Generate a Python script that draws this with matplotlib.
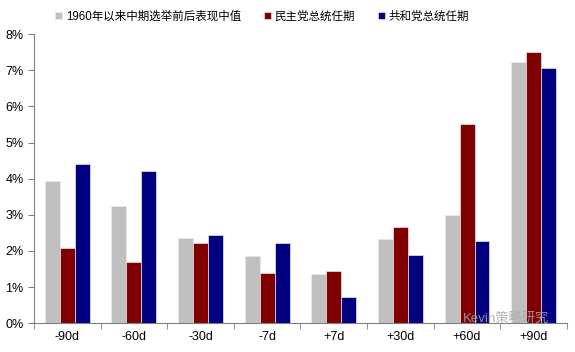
import numpy as np
import matplotlib
matplotlib.use('Agg')
import matplotlib.pyplot as plt
from matplotlib.ticker import FuncFormatter, FixedLocator

plt.rcParams['font.family'] = ['Liberation Sans', 'Noto Sans CJK SC', 'DejaVu Sans']

# data (%)
categories = ['-90d', '-60d', '-30d', '-7d', '+7d', '+30d', '+60d', '+90d']
median_all = [3.94, 3.24, 2.35, 1.86, 1.36, 2.32, 3.00, 7.24]
democrat = [2.09, 1.70, 2.22, 1.40, 1.44, 2.65, 5.50, 7.50]
republican = [4.40, 4.22, 2.44, 2.21, 0.71, 1.90, 2.27, 7.06]
series_names = ['1960年以来中期选举前后表现中值', '民主党总统任期', '共和党总统任期']
colors = ['#C0C0C0', '#800000', '#000080']

fig = plt.figure(figsize=(5.75, 3.52), dpi=100)
ax = fig.add_axes([0.059, 0.082, 0.927, 0.821])

x = np.arange(len(categories))
w = 0.225
for i, (vals, name, c) in enumerate(zip([median_all, democrat, republican], series_names, colors)):
    ax.bar(x + (i - 1) * w, vals, width=w, color=c, label=name,
           edgecolor='#E8E8E8', linewidth=0.5)

ax.set_xlim(-0.5, len(categories) - 0.5)
ax.set_ylim(0, 8)
ax.set_yticks(np.arange(0, 9, 1))
ax.yaxis.set_major_formatter(FuncFormatter(lambda v, p: f'{v:.0f}%'))
ax.set_xticks(x)
ax.set_xticklabels(categories)
ax.xaxis.set_minor_locator(FixedLocator(np.arange(-0.5, len(categories), 1)))
ax.tick_params(axis='x', which='major', length=0, labelsize=9, pad=6)
ax.tick_params(axis='x', which='minor', length=4, direction='out', color='#808080')
ax.tick_params(axis='y', length=4, direction='out', color='#808080', labelsize=9)

for s in ['top', 'right']:
    ax.spines[s].set_visible(False)
for s in ['left', 'bottom']:
    ax.spines[s].set_color('#808080')
    ax.spines[s].set_linewidth(0.8)

leg = fig.legend(loc='upper center', bbox_to_anchor=(0.456, 1.0), ncol=3, frameon=False,
                 fontsize=8.3, handlelength=0.6, handleheight=0.6, handletextpad=0.3,
                 columnspacing=2.0)

# watermark
fig.text(0.805, 0.083, 'Kevin策略研究', fontsize=9.5, color='#A8A8A8', alpha=0.85)

fig.savefig('out.png', dpi=100)
